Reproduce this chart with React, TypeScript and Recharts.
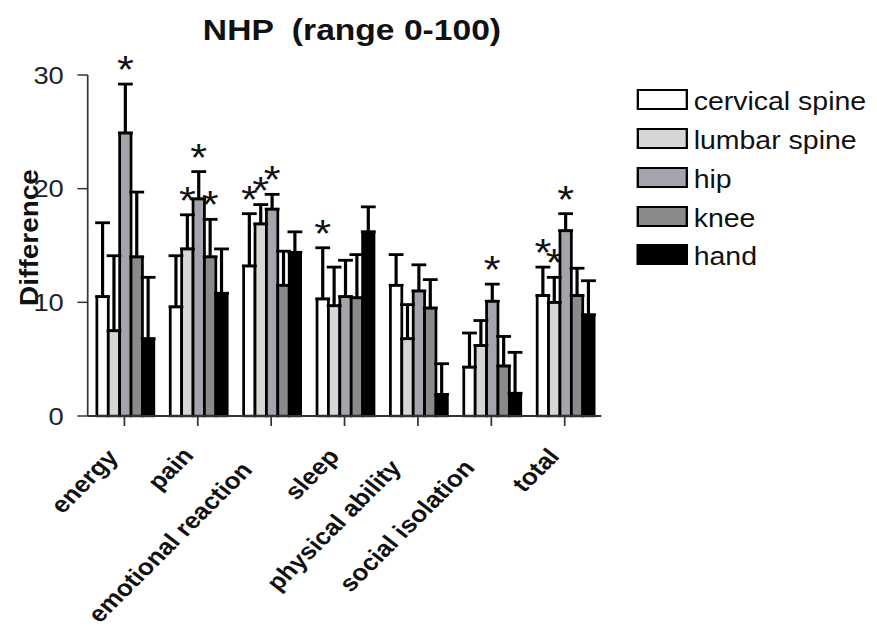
import { BarChart, Bar, XAxis, YAxis, ErrorBar } from 'recharts';

// NHP subscale differences per joint group (range 0-100)
const categories = ['energy', 'pain', 'emotional reaction', 'sleep', 'physical ability', 'social isolation', 'total'];

const cervical = [10.5, 9.6, 13.2, 10.3, 11.5, 4.3, 10.6];
const cervicalErr = [6.5, 4.5, 4.6, 4.5, 2.7, 3.0, 2.5];
const cervicalStar = [false, false, true, true, false, false, true];

const lumbar = [7.5, 14.7, 16.9, 9.7, 6.8, 6.2, 10.0];
const lumbarErr = [6.6, 3.0, 1.7, 3.4, 3.0, 2.2, 2.2];
const lumbarStar = [false, true, true, false, false, false, true];

const hip = [24.9, 19.1, 18.2, 10.5, 11.0, 10.1, 16.3];
const hipErr = [4.3, 2.4, 1.3, 3.2, 2.3, 1.5, 1.5];
const hipStar = [true, true, true, false, false, true, true];

const knee = [14.0, 14.0, 11.5, 10.4, 9.5, 4.4, 10.6];
const kneeErr = [5.7, 3.3, 3.0, 3.8, 2.5, 2.6, 2.4];
const kneeStar = [false, true, false, false, false, false, false];

const hand = [6.8, 10.8, 14.4, 16.2, 1.9, 2.0, 8.9];
const handErr = [5.4, 3.9, 1.8, 2.2, 2.7, 3.6, 3.0];
const handStar = [false, false, false, false, false, false, false];

const yTicks = [0, 10, 20, 30];

const COLORS: Record<string, string> = {
  cervical: '#ffffff',
  lumbar: '#d6d6d6',
  hip: '#a4a4ac',
  knee: '#8a8a8a',
  hand: '#000000',
};

const FONT = '"Liberation Sans", Arial, Helvetica, sans-serif';

const series = [
  { key: 'cervical', name: 'cervical spine', values: cervical, errors: cervicalErr, stars: cervicalStar },
  { key: 'lumbar', name: 'lumbar spine', values: lumbar, errors: lumbarErr, stars: lumbarStar },
  { key: 'hip', name: 'hip', values: hip, errors: hipErr, stars: hipStar },
  { key: 'knee', name: 'knee', values: knee, errors: kneeErr, stars: kneeStar },
  { key: 'hand', name: 'hand', values: hand, errors: handErr, stars: handStar },
];

// only the upper half of the error bar is drawn in the original
const data = categories.map((name, i) => {
  const row: any = { name };
  series.forEach((s) => {
    row[s.key] = s.values[i];
    row[`${s.key}Err`] = [0, s.errors[i]];
  });
  return row;
});

// bar with black outline, plus a significance star above the error bar
const makeShape = (values: number[], errors: number[], stars: boolean[]) => (props: any) => {
  const { x, y, width, height, index, fill } = props;
  const v = values[index];
  const errTop = v ? y - (errors[index] * height) / v : y;
  return (
    <g>
      <rect x={x} y={y} width={width} height={height} fill={fill} stroke="#000" strokeWidth={2.4} />
      {stars[index] && (
        <text x={x + width / 2} y={errTop - 1} textAnchor="middle" fontSize={38} fill="#111" fontFamily={FONT}>
          *
        </text>
      )}
    </g>
  );
};

// slanted category labels; longer labels sit a little further back, as in the original
const XTick = (props: any) => {
  const { x, y, payload } = props;
  const label = String(payload.value);
  const back = 0.12 * label.length * 0.5 * 23;
  return (
    <g transform={`translate(${x + 1},${y + 24}) rotate(-48.6)`}>
      <text textAnchor="end" dx={-back} fontSize={23} fontWeight="bold" fill="#111" fontFamily={FONT}>
        {label}
      </text>
    </g>
  );
};

const YLabel = (props: any) => {
  const vb = props.viewBox || { y: 75, height: 341 };
  const cx = 33.4;
  const cy = vb.y + vb.height / 2 - 8;
  return (
    <g transform={`translate(${cx},${cy}) rotate(-90) scale(1,0.8)`}>
      <text textAnchor="middle" fontSize={28} fontWeight="bold" fill="#111" fontFamily={FONT}>
        Difference
      </text>
    </g>
  );
};

export default function App() {
  return (
    <div
      style={{
        position: 'absolute',
        left: 0,
        top: 0,
        width: 770,
        height: 626,
        background: '#fff',
        fontFamily: FONT,
        transform: 'scaleX(1.139)',
        transformOrigin: '0 0',
      }}
    >
      <div
        style={{
          position: 'absolute',
          left: 0,
          top: 13,
          width: 618,
          textAlign: 'center',
          fontSize: 29.5,
          fontWeight: 'bold',
          whiteSpace: 'pre',
          color: '#111',
        }}
      >
        NHP  (range 0-100)
      </div>

      <BarChart
        width={770}
        height={626}
        data={data}
        margin={{ top: 75, right: 242, bottom: 60, left: 0 }}
        barGap={0}
        barCategoryGap="12.5%"
      >
        <XAxis
          dataKey="name"
          interval={0}
          tick={<XTick />}
          tickSize={10}
          tickMargin={2}
          tickLine={{ stroke: '#333', strokeWidth: 1.5 }}
          axisLine={{ stroke: '#333', strokeWidth: 2 }}
          height={150}
        />
        <YAxis
          domain={[0, 30]}
          ticks={yTicks}
          width={77}
          tickSize={9}
          tickMargin={12}
          tick={{ fontSize: 24, fill: '#222' }}
          tickLine={{ stroke: '#333', strokeWidth: 1.5 }}
          axisLine={{ stroke: '#333', strokeWidth: 1.5 }}
          label={<YLabel />}
        />
        {series.map((s) => (
          <Bar
            key={s.key}
            dataKey={s.key}
            name={s.name}
            fill={COLORS[s.key]}
            isAnimationActive={false}
            shape={makeShape(s.values, s.errors, s.stars)}
          >
            <ErrorBar dataKey={`${s.key}Err`} direction="y" width={6.5} stroke="#000" strokeWidth={2.8} />
          </Bar>
        ))}
      </BarChart>

      <div style={{ position: 'absolute', left: 559, top: 80.6 }}>
        {series.map((s) => (
          <div key={s.key} style={{ display: 'flex', alignItems: 'center', height: 38.75 }}>
            <div
              style={{
                width: 45,
                height: 21,
                boxSizing: 'border-box',
                border: '2.5px solid #000',
                background: COLORS[s.key],
              }}
            />
            <span style={{ marginLeft: 5, fontSize: 25, color: '#111', paddingTop: 4 }}>{s.name}</span>
          </div>
        ))}
      </div>
    </div>
  );
}
